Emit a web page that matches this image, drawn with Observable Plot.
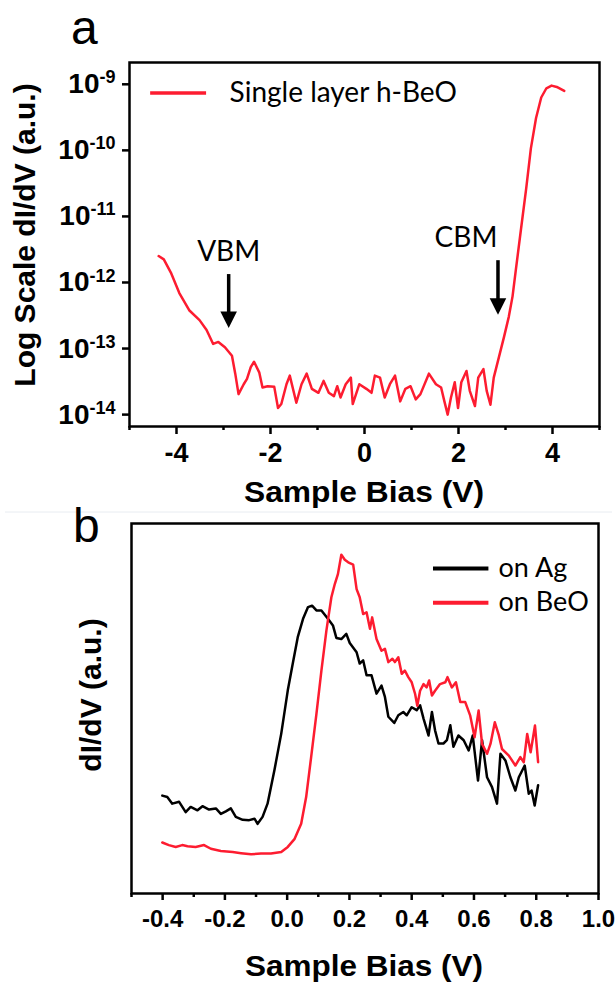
<!DOCTYPE html>
<html><head><meta charset="utf-8">
<script src="https://cdn.jsdelivr.net/npm/d3@7"></script>
<script src="https://cdn.jsdelivr.net/npm/@observablehq/plot@0.6"></script>
<style>
body{margin:0;background:#fff;}
#fig{position:relative;width:615px;height:986px;overflow:hidden;background:#fff;}
#fig svg{position:absolute;left:0;overflow:visible;background:transparent;}
</style></head><body><div id="fig"></div>
<script>
// ---------- Panel a: single layer h-BeO, log scale dI/dV ----------
const biasA = [-4.38,-4.27,-4.12,-3.94,-3.73,-3.51,-3.36,-3.22,-3.11,-2.97,-2.82,-2.75,-2.68,-2.57,-2.50,-2.42,-2.35,-2.24,-2.17,-2.06,-1.92,-1.84,-1.77,-1.66,-1.59,-1.45,-1.34,-1.23,-1.12,-0.98,-0.87,-0.76,-0.65,-0.58,-0.51,-0.40,-0.29,-0.25,-0.11,0.04,0.15,0.22,0.33,0.43,0.54,0.65,0.76,0.87,0.98,1.09,1.19,1.37,1.52,1.63,1.70,1.77,1.84,1.92,1.99,2.06,2.17,2.24,2.35,2.42,2.53,2.60,2.68,2.75,2.86,2.97,3.07,3.15,3.22,3.33,3.44,3.54,3.65,3.76,3.87,3.98,4.09,4.25];
// log10 of dI/dV (a.u.)
const logDidvA = [-11.60,-11.65,-11.85,-12.16,-12.42,-12.57,-12.72,-12.93,-12.90,-12.98,-13.11,-13.38,-13.69,-13.54,-13.46,-13.28,-13.20,-13.36,-13.59,-13.57,-13.58,-13.90,-13.84,-13.54,-13.41,-13.82,-13.54,-13.38,-13.61,-13.67,-13.49,-13.67,-13.72,-13.57,-13.74,-13.54,-13.44,-13.84,-13.54,-13.61,-13.67,-13.41,-13.44,-13.74,-13.54,-13.41,-13.80,-13.61,-13.57,-13.77,-13.69,-13.38,-13.54,-13.59,-13.80,-14.00,-13.74,-13.51,-13.90,-13.51,-13.34,-13.64,-13.87,-13.44,-13.31,-13.64,-13.85,-13.44,-13.13,-12.82,-12.52,-12.21,-11.81,-11.19,-10.58,-9.97,-9.51,-9.20,-9.06,-9.02,-9.04,-9.10];
const xTicksA = [-4,-2,0,2,4];
const xMinorA = [-5,-3,-1,1,3,5];
const yExpA = [-9,-10,-11,-12,-13,-14];
const bandLabels = ["VBM","CBM"];
const bandX = [-2.89, 2.84];
const bandTextX = [-2.89, 2.16];
const bandTextLog = [-11.68, -11.46];
const bandTopLog = [-11.88, -11.67];
const bandTipLog = [-12.69, -12.49];
const legendA = ["Single layer h-BeO"];

// ---------- Panel b: dI/dV on Ag and on BeO ----------
const biasAg = [-0.401,-0.385,-0.369,-0.347,-0.326,-0.310,-0.288,-0.272,-0.251,-0.229,-0.213,-0.197,-0.181,-0.165,-0.143,-0.122,-0.105,-0.095,-0.079,-0.063,-0.041,-0.019,0.002,0.018,0.034,0.051,0.067,0.080,0.094,0.110,0.131,0.147,0.158,0.174,0.190,0.201,0.223,0.233,0.244,0.255,0.271,0.287,0.303,0.314,0.325,0.344,0.357,0.373,0.384,0.400,0.416,0.427,0.438,0.454,0.465,0.475,0.486,0.502,0.513,0.524,0.534,0.550,0.567,0.583,0.596,0.613,0.626,0.642,0.658,0.674,0.685,0.701,0.717,0.733,0.744,0.763,0.776,0.785,0.795,0.806];
const didvAg = [27.2,26.8,25.0,25.5,22.7,24.1,23.2,24.3,23.4,23.7,22.2,22.9,23.7,21.4,20.6,20.5,20.9,19.5,21.4,25.0,34.1,44.1,55.9,63.2,70.4,75.4,78.6,79.0,77.7,77.7,75.4,73.6,70.2,69.9,71.3,68.8,66.3,63.2,64.1,60.0,60.0,55.0,57.2,54.1,48.7,47.0,49.1,50.0,49.1,51.3,50.5,51.8,48.2,43.6,50.0,45.0,41.4,41.4,42.3,46.4,40.5,43.6,42.3,39.5,43.6,31.3,42.3,32.2,29.5,25.0,38.6,36.8,32.2,28.6,32.2,35.4,27.7,28.6,24.5,30.0];
const biasBeO = [-0.401,-0.380,-0.358,-0.337,-0.320,-0.294,-0.267,-0.245,-0.213,-0.175,-0.148,-0.116,-0.084,-0.052,-0.019,0.002,0.024,0.045,0.061,0.077,0.094,0.110,0.126,0.142,0.153,0.163,0.174,0.185,0.196,0.212,0.223,0.233,0.244,0.255,0.266,0.273,0.287,0.303,0.314,0.325,0.338,0.346,0.357,0.368,0.378,0.389,0.400,0.411,0.418,0.427,0.438,0.448,0.456,0.465,0.475,0.491,0.508,0.515,0.529,0.542,0.556,0.572,0.588,0.602,0.615,0.626,0.642,0.653,0.667,0.680,0.690,0.712,0.733,0.749,0.760,0.771,0.782,0.796,0.806];
const didvBeO = [14.4,13.7,13.2,13.7,13.4,13.2,13.7,12.7,12.1,11.8,11.5,11.2,11.4,11.4,11.8,13.2,15.4,19.5,26.8,37.7,49.5,61.3,72.2,81.3,84.9,87.6,92.9,91.5,90.8,90.2,83.5,81.3,76.7,77.2,72.7,75.8,69.9,66.7,67.2,63.6,64.5,63.6,64.9,60.4,61.3,59.5,58.1,54.9,51.7,55.8,57.6,56.7,58.6,54.5,55.8,57.6,58.1,59.5,56.7,58.1,52.7,52.7,49.0,43.1,50.4,41.3,38.6,41.3,47.2,43.6,39.9,38.1,35.4,37.7,36.3,44.0,39.0,46.3,36.3];
const xTicksB = [-0.4,-0.2,0.0,0.2,0.4,0.6,0.8,1.0];
const xMinorB = [-0.5,-0.3,-0.1,0.1,0.3,0.5,0.7,0.9];
const seriesB = ["on Ag","on BeO"];
const legendBX = [0.47, 0.648, 0.679];
const legendBY = [89.1, 79.8];

// ---------- styles ----------
const RED = "#fd1c30";
const BOLD = "Liberation Sans, Arial, sans-serif";
const CAL = "Lato, Open Sans, sans-serif";

const dataA = biasA.map((x, i) => ({x, y: 10 ** logDidvA[i]}));
const arrowsA = bandLabels.map((label, i) => ({label, x: bandX[i], tx: bandTextX[i], ty: 10 ** bandTextLog[i], top: 10 ** bandTopLog[i], tip: 10 ** bandTipLog[i]}));
const downTri = {draw(ctx, size) { const s = Math.sqrt(size) * 1.1; ctx.moveTo(0, 0); ctx.lineTo(-s / 2, -s); ctx.lineTo(s / 2, -s); ctx.closePath(); }};

const plotA = Plot.plot({
  width: 615, height: 530,
  marginLeft: 129, marginRight: 16, marginTop: 62, marginBottom: 104,
  style: {fontFamily: BOLD, background: "transparent", overflow: "visible"},
  x: {domain: [-5, 5]},
  y: {type: "log", domain: [10 ** -14.18, 10 ** -8.67]},
  marks: [
    Plot.axisX({ticks: xTicksA, tickSize: 8, tickPadding: 8, strokeWidth: 2.5, label: null, tickFormat: d => String(d), fontSize: 27, fontWeight: "bold", fontFamily: BOLD}),
    Plot.axisX({ticks: xMinorA, tickSize: 4, strokeWidth: 2.5, label: null, tickFormat: () => ""}),
    Plot.axisY({ticks: yExpA.map(e => 10 ** e), tickSize: 7, tickPadding: 7, strokeWidth: 2.5, label: null, tickFormat: d => "10^" + Math.round(Math.log10(d)), fontSize: 28, fontWeight: "bold", fontFamily: BOLD}),
    Plot.lineY(dataA, {x: "x", y: "y", stroke: RED, strokeWidth: 2.5}),
    Plot.ruleX(arrowsA, {x: "x", y1: "top", y2: "tip", stroke: "black", strokeWidth: 3.5, insetBottom: 8}),
    Plot.dot(arrowsA, {x: "x", y: "tip", symbol: downTri, r: 8.5, fill: "black", stroke: "none"}),
    Plot.text(arrowsA, {x: "tx", y: "ty", text: "label", fontFamily: CAL, fontSize: 28, fill: "black", lineAnchor: "bottom"}),
    Plot.ruleY(legendA, {x1: -4.55, x2: -3.36, y: 10 ** -9.13, stroke: RED, strokeWidth: 3.5}),
    Plot.text(legendA, {x: -2.87, y: 10 ** -9.13, text: d => d, textAnchor: "start", lineAnchor: "middle", fontFamily: CAL, fontSize: 28, fill: "black"}),
    Plot.frame({stroke: "black", strokeWidth: 2.5})
  ]
});

const dataB = [
  ...biasAg.map((x, i) => ({series: "on Ag", x, y: didvAg[i]})),
  ...biasBeO.map((x, i) => ({series: "on BeO", x, y: didvBeO[i]}))
];
const legendB = seriesB.map((s, i) => ({s, y: legendBY[i]}));

const plotB = Plot.plot({
  width: 615, height: 496,
  marginLeft: 131, marginRight: 17, marginTop: 33, marginBottom: 93,
  style: {fontFamily: BOLD, background: "transparent", overflow: "visible"},
  x: {domain: [-0.5, 1.0]},
  y: {domain: [0.5, 101.4], axis: null},
  color: {domain: seriesB, range: ["black", RED]},
  marks: [
    Plot.axisX({ticks: xTicksB, tickSize: 7, tickPadding: 9, strokeWidth: 2.5, label: null, tickFormat: d => d.toFixed(1), fontSize: 24, fontWeight: "bold", fontFamily: BOLD}),
    Plot.axisX({ticks: xMinorB, tickSize: 4, strokeWidth: 2.5, label: null, tickFormat: () => ""}),
    Plot.lineY(dataB, {x: "x", y: "y", z: "series", stroke: "series", strokeWidth: 2.5}),
    Plot.ruleY(legendB, {x1: legendBX[0], x2: legendBX[1], y: "y", stroke: "s", strokeWidth: 4}),
    Plot.text(legendB, {x: legendBX[2], y: "y", text: "s", textAnchor: "start", lineAnchor: "middle", fontFamily: CAL, fontSize: 27, fill: "black"}),
    Plot.frame({stroke: "black", strokeWidth: 2.5})
  ]
});

// superscript exponents on the log axis
d3.select(plotA).selectAll('g[aria-label="y-axis tick label"] text').each(function () {
  const [base, exp] = this.textContent.split("^");
  const t = d3.select(this);
  t.text(base);
  t.append("tspan").attr("dy", "-0.55em").attr("font-size", "18px").text(exp);
});

const fig = document.getElementById("fig");
plotA.style.top = "0px";
plotB.style.top = "490px";
fig.appendChild(plotA);
fig.appendChild(plotB);

// titles and panel letters
const ov = d3.select(fig).append("svg").attr("width", 615).attr("height", 986).style("top", "0px").style("pointer-events", "none");
ov.append("line").attr("x1", 5).attr("x2", 612).attr("y1", 512).attr("y2", 512).attr("stroke", "#e8ecf1").attr("stroke-width", 1);
const txt = (s, x, y, opts) => {
  const t = ov.append("text").attr("x", x).attr("y", y).text(s)
    .attr("font-family", opts.family || BOLD).attr("font-size", opts.size).attr("font-weight", opts.weight || "normal")
    .attr("text-anchor", opts.anchor || "middle").attr("fill", "black");
  if (opts.len) t.attr("textLength", opts.len).attr("lengthAdjust", "spacingAndGlyphs");
  if (opts.rotate) t.attr("transform", `rotate(-90 ${x} ${y})`);
  return t;
};
txt("a", 71, 44, {size: 48, anchor: "start"});
txt("b", 73, 542, {size: 48, anchor: "start"});
txt("Sample Bias (V)", 364, 502, {size: 29, weight: "bold", len: 240});
txt("Log Scale dI/dV (a.u.)", 35, 235, {size: 30, weight: "bold", rotate: true});
txt("Sample Bias (V)", 364, 976, {size: 30, weight: "bold", len: 238});
txt("dI/dV (a.u.)", 101, 695, {size: 30, weight: "bold", rotate: true});
</script></body></html>
